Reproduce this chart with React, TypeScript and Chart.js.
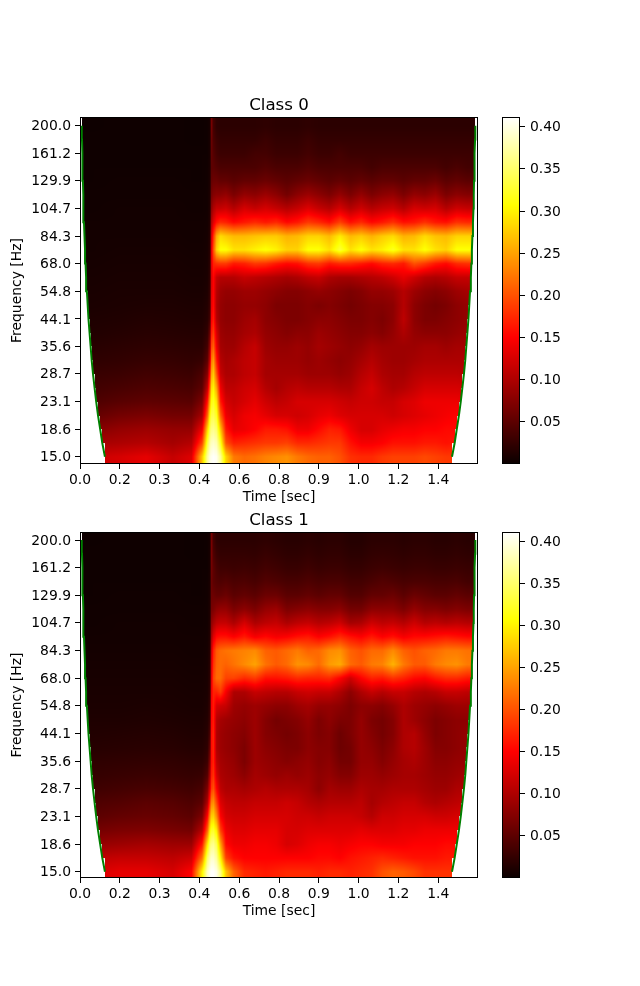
import React, { useEffect, useRef } from "react";
import { Chart, registerables } from "chart.js";

Chart.register(...registerables);

const FONT = "'DejaVu Sans', sans-serif";

// tick labels as they appear on the axes
const xTickValues = [0, 0.15, 0.3, 0.45, 0.6, 0.75, 0.9, 1.05, 1.2, 1.35];
const xTickLabels = ["0.0", "0.2", "0.3", "0.4", "0.6", "0.8", "0.9", "1.0", "1.2", "1.4"];
const yTickValues = [15, 18.6, 23.1, 28.7, 35.6, 44.1, 54.8, 68, 84.3, 104.7, 129.9, 161.2, 200];
const colorbarTicks = [0.05, 0.1, 0.15, 0.2, 0.25, 0.3, 0.35, 0.4];

// grid of the spectrogram: time [s] of each column, frequency [Hz] of each row
const timeColumns = [
  0.05, 0.15, 0.25, 0.35, 0.42, 0.46, 0.48, 0.49, 0.495, 0.503, 0.515, 0.53,
  0.55, 0.58, 0.62, 0.66, 0.7, 0.74, 0.78, 0.82, 0.86, 0.9, 0.94, 0.98,
  1.02, 1.06, 1.1, 1.14, 1.18, 1.22, 1.26, 1.3, 1.34, 1.38, 1.42, 1.46,
];
const freqRows = [
  15, 16.7, 18.6, 20.7, 23.1, 25.7, 28.7, 31.9, 35.6, 39.6, 44.1, 49.1, 54.8,
  61, 68, 75.7, 84.3, 93.9, 104.7, 116.6, 129.9, 144.6, 161.2, 179.5, 200,
];

// cone of influence, one time per frequency row
const coiLeft = [
  0.094, 0.084, 0.076, 0.068, 0.061, 0.055, 0.049, 0.044, 0.04, 0.036, 0.032, 0.029, 0.026,
  0.023, 0.021, 0.019, 0.017, 0.015, 0.013, 0.012, 0.011, 0.0095, 0.0085, 0.0075, 0.0065,
];
const coiRight = [
  1.402, 1.412, 1.42, 1.428, 1.435, 1.441, 1.447, 1.452, 1.456, 1.46, 1.464, 1.467, 1.47,
  1.473, 1.475, 1.477, 1.479, 1.481, 1.483, 1.484, 1.485, 1.486, 1.488, 1.489, 1.49,
];

// power in thousandths, rows run from 15 Hz up to 200 Hz
const class0Rows = [
  [118,125,135,115,130,270,370,400,405,410,405,370,280,225,215,220,230,235,240,225,215,210,210,200,180,175,175,185,190,190,190,195,190,185,185,180],
  [95,100,105,95,105,190,330,375,385,390,380,320,200,170,175,180,185,185,190,175,175,180,185,185,160,145,145,150,160,160,160,165,165,160,165,160],
  [75,85,90,85,85,140,280,345,360,365,350,270,165,135,140,150,165,165,160,140,140,155,170,165,140,125,125,135,140,145,145,150,150,155,155,150],
  [55,65,70,65,65,95,210,310,335,340,320,210,140,125,140,145,135,125,125,120,125,135,140,130,125,125,125,125,120,125,130,135,140,145,150,145],
  [42,48,52,50,48,70,160,260,310,320,290,165,125,115,125,135,120,110,115,125,125,125,125,120,115,120,120,115,115,125,130,140,140,140,140,135],
  [34,38,42,40,38,50,110,210,285,300,250,140,110,110,120,125,105,95,105,110,105,105,105,100,100,115,125,110,100,105,115,125,125,125,125,120],
  [28,30,34,32,30,40,75,160,250,275,200,115,100,100,110,115,95,95,95,95,90,90,90,85,90,105,115,100,95,95,105,110,110,110,110,105],
  [22,24,27,26,24,27,50,115,220,245,165,105,95,100,110,115,95,90,90,90,85,90,85,80,85,95,105,95,90,90,95,100,100,100,100,100],
  [18,20,22,21,20,20,35,85,190,210,140,95,90,90,105,115,90,85,85,90,85,95,90,85,80,85,95,90,90,90,90,95,95,90,95,95],
  [14,16,18,17,16,16,25,60,165,185,125,90,85,85,95,100,85,80,75,80,80,90,85,80,75,75,80,75,85,100,85,80,80,80,85,90],
  [12,13,15,14,13,13,18,35,145,165,105,85,80,80,90,95,80,75,70,70,75,80,80,75,70,70,75,70,80,110,80,70,70,75,80,85],
  [10,11,12,12,11,11,15,28,135,155,100,85,80,80,85,85,80,70,70,70,75,70,75,70,65,70,75,75,80,105,80,70,65,70,80,85],
  [9,10,10,10,9,9,12,25,130,150,105,90,85,85,90,90,85,80,75,75,80,85,80,75,70,75,85,85,90,105,90,80,75,80,90,95],
  [8,9,9,9,8,8,10,22,125,150,115,105,105,105,115,110,105,100,95,100,110,115,100,95,95,100,105,110,120,135,120,105,100,105,115,115],
  [7,8,8,8,7,7,9,20,130,170,180,185,185,165,170,185,180,165,155,160,180,185,165,175,175,165,155,170,175,165,200,185,165,155,175,180],
  [6,7,7,7,6,6,8,18,130,200,280,310,310,290,290,300,310,300,280,280,310,310,290,330,290,310,290,300,320,290,290,310,290,280,310,310],
  [6,6,6,6,5,5,7,16,120,180,255,285,275,265,265,270,275,275,260,265,280,280,265,295,265,275,260,275,285,260,265,285,270,265,280,280],
  [5,5,5,5,5,5,6,14,100,130,160,175,170,155,165,175,165,175,155,165,185,175,160,190,160,175,155,165,180,160,165,180,165,160,180,175],
  [4,5,5,5,4,4,5,12,80,100,115,115,120,105,125,115,125,115,105,115,130,115,105,125,105,120,105,115,120,105,125,120,125,105,120,115],
  [4,4,4,4,4,4,5,11,65,75,80,80,85,70,85,80,90,80,65,80,90,80,70,85,70,85,70,80,85,70,85,80,90,70,80,75],
  [3,4,4,4,3,3,4,10,55,60,60,55,55,50,55,55,60,55,50,55,60,55,50,55,50,55,50,55,55,50,55,55,60,50,55,50],
  [3,3,3,3,3,3,4,9,50,50,45,40,40,40,40,40,45,40,40,40,45,40,40,40,40,40,35,40,40,40,40,40,40,35,40,35],
  [3,3,3,3,3,3,3,8,55,45,35,30,30,30,30,35,35,30,30,30,35,30,30,35,30,30,30,30,30,30,30,30,30,30,30,30],
  [3,3,3,3,2,2,3,8,60,40,30,25,25,25,25,25,30,25,25,25,30,25,25,25,25,25,25,25,25,25,25,25,25,25,25,25],
  [2,3,3,3,2,2,3,7,70,35,22,20,20,20,20,20,22,20,20,20,22,20,20,20,20,20,20,20,20,20,20,20,20,20,20,20],
];

const class1Rows = [
  [125,135,135,125,150,300,385,405,410,410,400,360,270,210,175,170,165,170,175,175,175,170,175,175,170,175,180,200,210,205,195,180,180,180,180,175],
  [110,115,115,110,120,220,350,380,390,390,370,300,190,160,150,150,150,150,150,150,150,155,155,150,160,165,170,175,170,165,160,160,160,165,165,160],
  [85,90,95,90,90,160,290,350,360,365,340,250,155,140,140,145,145,140,125,130,140,145,145,140,145,150,150,145,145,145,150,150,150,155,155,150],
  [65,70,72,68,65,105,210,300,320,325,295,190,140,130,130,135,135,135,125,125,130,130,130,130,130,135,130,130,130,135,135,140,140,140,140,140],
  [50,55,58,55,50,70,150,240,275,280,235,150,125,120,120,125,125,125,125,120,120,115,120,120,120,115,105,120,120,125,125,125,120,120,125,130],
  [42,45,50,47,42,50,100,180,230,240,190,130,115,110,110,115,115,115,120,115,105,100,105,105,105,110,95,105,110,115,115,105,100,105,110,115],
  [32,35,38,36,33,38,70,130,185,200,150,110,100,100,95,100,105,100,100,100,95,80,95,90,90,100,95,95,100,100,100,95,90,90,100,100],
  [26,28,30,28,26,28,45,100,165,180,125,100,95,90,80,95,90,85,90,85,90,80,85,75,75,90,90,85,90,95,95,90,85,85,90,95],
  [22,23,24,23,21,21,30,75,155,170,110,95,90,85,70,90,85,80,75,80,85,75,80,65,65,85,85,75,85,95,100,90,80,80,85,85],
  [17,18,19,18,16,16,22,55,155,170,100,90,85,80,70,90,80,75,70,70,80,75,75,60,65,85,80,70,80,100,105,90,75,75,80,85],
  [14,15,16,15,13,13,18,40,155,170,100,90,85,80,75,90,75,70,65,70,80,70,75,60,70,85,75,65,75,100,105,85,70,75,80,85],
  [12,12,13,12,11,11,15,30,150,165,105,95,90,85,80,90,75,65,70,75,85,70,80,70,70,85,70,65,75,100,90,80,70,75,80,80],
  [10,10,11,10,9,9,12,26,145,165,125,120,115,90,85,90,85,80,80,90,95,85,85,80,70,80,80,75,85,100,90,85,80,85,90,90],
  [9,9,9,9,8,8,10,22,140,170,170,185,145,100,100,115,110,105,105,115,120,115,115,100,80,100,115,105,115,115,105,100,105,115,115,110],
  [8,8,8,8,7,7,9,20,130,190,215,215,190,190,175,185,160,160,165,175,170,170,175,150,120,150,170,165,180,170,155,150,165,175,175,165],
  [7,7,7,7,6,6,8,18,125,180,210,215,210,220,235,250,220,205,215,240,235,215,245,255,215,205,225,230,260,225,205,205,225,235,240,225],
  [6,6,6,6,5,5,7,16,115,170,205,215,220,225,230,235,210,205,215,225,210,215,235,240,210,200,215,215,235,210,200,210,215,225,225,220],
  [5,5,5,5,5,5,6,14,95,130,155,160,160,150,165,145,155,145,150,160,165,150,160,175,160,150,165,150,160,145,155,155,160,165,160,155],
  [4,5,5,5,4,4,5,12,80,95,110,115,115,100,125,100,110,115,100,110,115,105,110,120,95,100,120,110,115,105,120,105,110,105,110,105],
  [4,4,4,4,4,4,5,11,65,70,80,85,85,70,80,70,85,90,70,75,80,75,75,80,65,65,80,80,80,70,85,75,75,70,75,70],
  [3,4,4,4,3,3,4,10,60,60,55,55,60,50,55,50,60,60,50,50,55,50,55,55,45,45,55,55,60,50,60,55,50,50,55,50],
  [3,3,3,3,3,3,4,9,60,50,45,42,45,40,42,38,45,42,38,38,42,38,40,40,35,35,40,45,42,38,40,40,38,38,40,35],
  [3,3,3,3,3,3,3,8,65,50,38,32,32,30,32,30,35,32,28,28,32,28,30,30,26,26,30,32,30,28,30,30,28,28,30,28],
  [3,3,3,3,2,2,3,8,70,42,30,25,25,25,25,24,28,25,22,22,25,22,24,24,20,20,24,25,24,22,24,24,22,22,24,22],
  [2,3,3,3,2,2,3,7,70,35,22,20,20,20,20,20,22,20,18,18,20,18,20,20,16,16,20,20,20,18,20,20,18,18,20,18],
];

function hot(n: number): [number, number, number] {
  const c = Math.min(1, Math.max(0, n));
  const r = Math.min(1, 0.0416 + (0.9584 * c) / 0.365);
  const g = Math.min(1, Math.max(0, (c - 0.365) / 0.381));
  const b = Math.min(1, Math.max(0, (c - 0.746) / 0.254));
  return [r * 255, g * 255, b * 255];
}

// fractional position of v in an ascending list
function fracIndex(list: number[], v: number) {
  if (v <= list[0]) return 0;
  const last = list.length - 1;
  if (v >= list[last]) return last;
  let i = 0;
  while (list[i + 1] < v) i++;
  return i + (v - list[i]) / (list[i + 1] - list[i]);
}

function paint(chart: any, fill: (data: Uint8ClampedArray, w: number, h: number) => void) {
  const { left, top, width, height } = chart.chartArea;
  const w = Math.round(width);
  const h = Math.round(height);
  const off = document.createElement("canvas");
  off.width = w;
  off.height = h;
  const offCtx = off.getContext("2d")!;
  const img = offCtx.createImageData(w, h);
  fill(img.data, w, h);
  offCtx.putImageData(img, 0, 0);
  chart.ctx.drawImage(off, left, top);
}

function frame(chart: any) {
  const { left, top, width, height } = chart.chartArea;
  const ctx = chart.ctx;
  ctx.save();
  ctx.strokeStyle = "#000";
  ctx.lineWidth = 1;
  ctx.strokeRect(left + 0.5, top + 0.5, width - 1, height - 1);
  ctx.restore();
}

function heatPlugin(rows: number[][], vmax: number) {
  const logRows = freqRows.map(Math.log);
  return {
    id: "heat",
    beforeDatasetsDraw(chart: any) {
      const xs = chart.scales.x;
      const ys = chart.scales.y;
      const { left, top } = chart.chartArea;
      paint(chart, (data, w, h) => {
        const cols: number[] = [];
        const times: number[] = [];
        for (let px = 0; px < w; px++) {
          const t = xs.getValueForPixel(left + px + 0.5);
          times.push(t);
          cols.push(fracIndex(timeColumns, t));
        }
        let p = 0;
        for (let py = 0; py < h; py++) {
          const rowPos = fracIndex(logRows, Math.log(ys.getValueForPixel(top + py + 0.5)));
          const r0 = Math.floor(rowPos);
          const r1 = Math.min(r0 + 1, rows.length - 1);
          const fr = rowPos - r0;
          for (let px = 0; px < w; px++, p += 4) {
            data[p + 3] = 255;
            if (times[px] < coiLeft[r0] || times[px] > coiRight[r0]) {
              data[p] = data[p + 1] = data[p + 2] = 255;
              continue;
            }
            const c0 = Math.floor(cols[px]);
            const c1 = Math.min(c0 + 1, timeColumns.length - 1);
            const fc = cols[px] - c0;
            const low = rows[r0][c0] * (1 - fc) + rows[r0][c1] * fc;
            const high = rows[r1][c0] * (1 - fc) + rows[r1][c1] * fc;
            const v = (low * (1 - fr) + high * fr) / 1000;
            const [r, g, b] = hot(v / vmax);
            data[p] = r;
            data[p + 1] = g;
            data[p + 2] = b;
          }
        }
      });
    },
    afterDraw: frame,
  };
}

function colorbarPlugin(vmax: number) {
  return {
    id: "colorbar",
    beforeDatasetsDraw(chart: any) {
      const ys = chart.scales.y;
      const { top } = chart.chartArea;
      paint(chart, (data, w, h) => {
        let p = 0;
        for (let py = 0; py < h; py++) {
          const v = ys.getValueForPixel(top + py + 0.5);
          const [r, g, b] = hot(v / vmax);
          for (let px = 0; px < w; px++, p += 4) {
            data[p] = r;
            data[p + 1] = g;
            data[p + 2] = b;
            data[p + 3] = 255;
          }
        }
      });
    },
    afterDraw: frame,
  };
}

const tickFont = { family: FONT, size: 13.9 };
const tickGrid = { drawOnChartArea: false, drawTicks: true, tickLength: 5, color: "#000" };

function Panel({ title, rows, top, areaHeight, yMin, yMax, barMin, vmax }: {
  title: string;
  rows: number[][];
  top: number;
  areaHeight: number;
  yMin: number;
  yMax: number;
  barMin: number;
  vmax: number;
}) {
  const heatRef = useRef<HTMLCanvasElement | null>(null);
  const barRef = useRef<HTMLCanvasElement | null>(null);

  useEffect(() => {
    if (!heatRef.current || !barRef.current) return;

    const heat = new Chart(heatRef.current, {
      type: "scatter",
      data: {
        datasets: [coiLeft, coiRight].map((times) => ({
          data: times.map((t, i) => ({ x: t, y: freqRows[i] })),
          showLine: true,
          pointRadius: 0,
          borderColor: "green",
          borderWidth: 2,
        })),
      },
      options: {
        animation: false,
        responsive: false,
        devicePixelRatio: 1,
        layout: { padding: { right: 12 } },
        plugins: {
          legend: { display: false },
          tooltip: { enabled: false },
          title: {
            display: true,
            text: title,
            color: "#000",
            fullSize: false,
            font: { family: FONT, size: 16.67, weight: "normal" },
            padding: { top: 10.5, bottom: 1.5 },
          },
        },
        scales: {
          x: {
            type: "linear",
            min: 0,
            max: 1.5,
            bounds: "data",
            afterBuildTicks: (s: any) => {
              s.ticks = xTickValues.map((value) => ({ value }));
            },
            afterFit: (s: any) => {
              s.height = 47;
            },
            border: { display: false },
            grid: tickGrid,
            ticks: {
              color: "#000",
              font: tickFont,
              padding: 3,
              maxRotation: 0,
              autoSkip: false,
              callback: (_v: any, i: number) => xTickLabels[i],
            },
            title: {
              display: true,
              text: "Time [sec]",
              color: "#000",
              font: tickFont,
              padding: { top: 0, bottom: 5.1 },
            },
          },
          y: {
            type: "logarithmic",
            min: yMin,
            max: yMax,
            bounds: "data",
            afterBuildTicks: (s: any) => {
              s.ticks = yTickValues.map((value) => ({ value }));
            },
            afterFit: (s: any) => {
              s.width = 80;
            },
            border: { display: false },
            grid: tickGrid,
            ticks: {
              color: "#000",
              font: tickFont,
              padding: 4,
              labelOffset: 1,
              autoSkip: false,
              callback: (_v: any, i: number) => yTickValues[i].toFixed(1),
            },
            title: {
              display: true,
              text: "Frequency [Hz]",
              color: "#000",
              font: tickFont,
              padding: { top: 8.6, bottom: 0 },
            },
          },
        },
      },
      plugins: [heatPlugin(rows, vmax)],
    } as any);

    const bar = new Chart(barRef.current, {
      type: "scatter",
      data: { datasets: [{ data: [] }] },
      options: {
        animation: false,
        responsive: false,
        devicePixelRatio: 1,
        layout: { padding: { left: 12, top: 32, bottom: 47 } },
        plugins: { legend: { display: false }, tooltip: { enabled: false } },
        scales: {
          x: { display: false },
          y: {
            type: "linear",
            position: "right",
            min: barMin,
            max: vmax,
            bounds: "data",
            afterBuildTicks: (s: any) => {
              s.ticks = colorbarTicks.map((value) => ({ value }));
            },
            afterFit: (s: any) => {
              s.width = 120;
            },
            border: { display: false },
            grid: tickGrid,
            ticks: {
              color: "#000",
              font: tickFont,
              padding: 5,
              labelOffset: 1,
              autoSkip: false,
              callback: (_v: any, i: number) => colorbarTicks[i].toFixed(2),
            },
          },
        },
      },
      plugins: [colorbarPlugin(vmax)],
    } as any);

    return () => {
      heat.destroy();
      bar.destroy();
    };
  }, [title, rows, yMin, yMax, barMin, vmax]);

  const height = 32 + areaHeight + 47;
  return (
    <>
      <canvas ref={heatRef} width={490} height={height} style={{ position: "absolute", left: 0, top }} />
      <canvas ref={barRef} width={150} height={height} style={{ position: "absolute", left: 490, top }} />
    </>
  );
}

export default function App() {
  return (
    <div style={{ position: "absolute", left: 0, top: 0, width: 640, height: 986, background: "#fff", overflow: "hidden" }}>
      <Panel title="Class 0" rows={class0Rows} top={85} areaHeight={347} yMin={14.167} yMax={214.1} barMin={0} vmax={0.4115} />
      <Panel title="Class 1" rows={class1Rows} top={500} areaHeight={346} yMin={14.28} yMax={212.9} barMin={0} vmax={0.4107} />
    </div>
  );
}
